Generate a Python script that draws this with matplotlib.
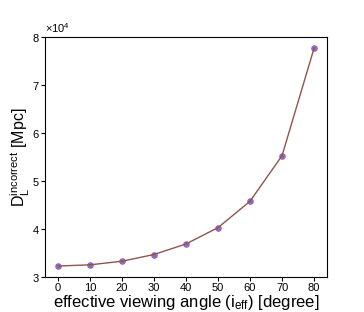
import matplotlib
matplotlib.use("Agg")
import matplotlib.pyplot as plt
import numpy as np

plt.rcParams['font.family'] = ['Liberation Sans', 'DejaVu Sans']
plt.rcParams['mathtext.fontset'] = 'custom'
plt.rcParams['mathtext.rm'] = 'Liberation Sans'
plt.rcParams['mathtext.it'] = 'Liberation Sans:italic'

# effective viewing angle vs incorrect luminosity distance
angle = [0, 10, 20, 30, 40, 50, 60, 70, 80]
dist = [32300, 32550, 33300, 34700, 36900, 40300, 45800, 55300, 77700]

fig = plt.figure(figsize=(3.64, 3.12), dpi=100)
ax = fig.add_axes([0.124, 0.112, 0.774, 0.769])

ax.scatter(angle, dist, s=14, color='tab:purple', zorder=2)
ax.plot(angle, dist, color='tab:brown', lw=1, zorder=3)

ax.set_ylim(30000, 80000)
ax.set_xticks(angle)
ax.ticklabel_format(axis='y', style='sci', scilimits=(0, 0), useMathText=True)
ax.tick_params(labelsize=8, length=3, width=0.8, pad=1)
ax.yaxis.get_offset_text().set_fontsize(8)

ax.set_xlabel(r'effective viewing angle (i$_\mathrm{eff}$) [degree]', fontsize=12, labelpad=0)
ax.set_ylabel(r'D$_\mathrm{L}^\mathrm{incorrect}$ [Mpc]', fontsize=11.5)
ax.yaxis.set_label_coords(-0.045, 0.5)

plt.savefig('out.png', dpi=100)
